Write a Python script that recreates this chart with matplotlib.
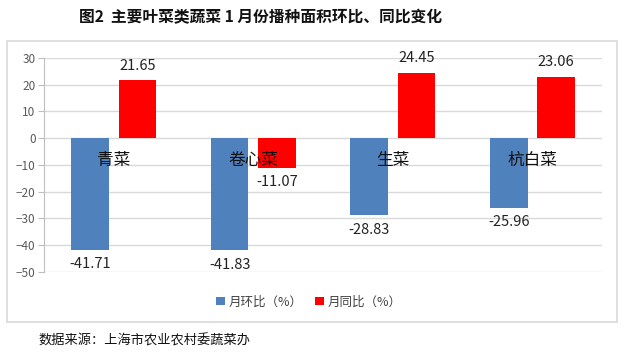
import matplotlib.pyplot as plt
import numpy as np
from matplotlib.patches import Rectangle

plt.rcParams['font.family'] = ['Noto Sans CJK SC', 'DejaVu Sans']

categories = ['青菜', '卷心菜', '生菜', '杭白菜']
mom = [-41.71, -41.83, -28.83, -25.96]   # 月环比
yoy = [21.65, -11.07, 24.45, 23.06]      # 月同比
series_names = ['月环比（%）', '月同比（%）']
colors = ['#4F81BD', '#FF0000']

fig = plt.figure(figsize=(6.24, 3.53), dpi=100)

# outer chart frame
fig.patches.append(Rectangle((0.0112, 0.088), 0.9776, 0.796, transform=fig.transFigure,
                             fill=False, edgecolor='#d9d9d9', linewidth=1.2))

ax = fig.add_axes([0.0705, 0.2295, 0.8945, 0.6062])
x = np.arange(len(categories))
w = 0.27
off = 0.17
b1 = ax.bar(x - off, mom, w, color=colors[0], label=series_names[0], zorder=2)
b2 = ax.bar(x + off, yoy, w, color=colors[1], label=series_names[1], zorder=2)

for bars, vals in [(b1, mom), (b2, yoy)]:
    for bar, v in zip(bars, vals):
        dy = 10.5 if v >= 0 else -10.5
        ax.annotate(f'{v:.2f}', (bar.get_x() + bar.get_width() / 2, v),
                    xytext=(0, dy), textcoords='offset points',
                    ha='center', va='center', fontsize=10.5, color='#222222')

for i, c in enumerate(categories):
    ax.text(i, -8.2, c, ha='center', va='center', fontsize=12, color='#111111', zorder=3)

ax.set_xlim(-0.5, len(categories) - 0.5)
ax.set_ylim(-50, 30)
ax.set_yticks(np.arange(-50, 31, 10))
ax.set_xticks([])
ax.tick_params(axis='y', labelsize=8.5, labelcolor='#595959', color='#bfbfbf', length=4, pad=2)
ax.grid(axis='y', color='#d9d9d9', linewidth=1, zorder=0)
for s in ['top', 'right', 'bottom']:
    ax.spines[s].set_visible(False)
ax.spines['left'].set_color('#bfbfbf')

fig.legend(handles=[b1, b2], loc='center', bbox_to_anchor=(0.495, 0.1445), ncol=2,
           frameon=False, fontsize=9, handlelength=0.7, handleheight=0.7,
           handletextpad=0.3, columnspacing=1.0, labelcolor='#404040')

fig.text(0.418, 0.952, '图2  主要叶菜类蔬菜 1 月份播种面积环比、同比变化',
         ha='center', va='center', fontsize=11.3, fontweight='bold', color='#111111')
fig.text(0.061, 0.034, '数据来源：上海市农业农村委蔬菜办', ha='left', va='center',
         fontsize=9.5, color='#111111')

fig.savefig('out.png', dpi=100)
